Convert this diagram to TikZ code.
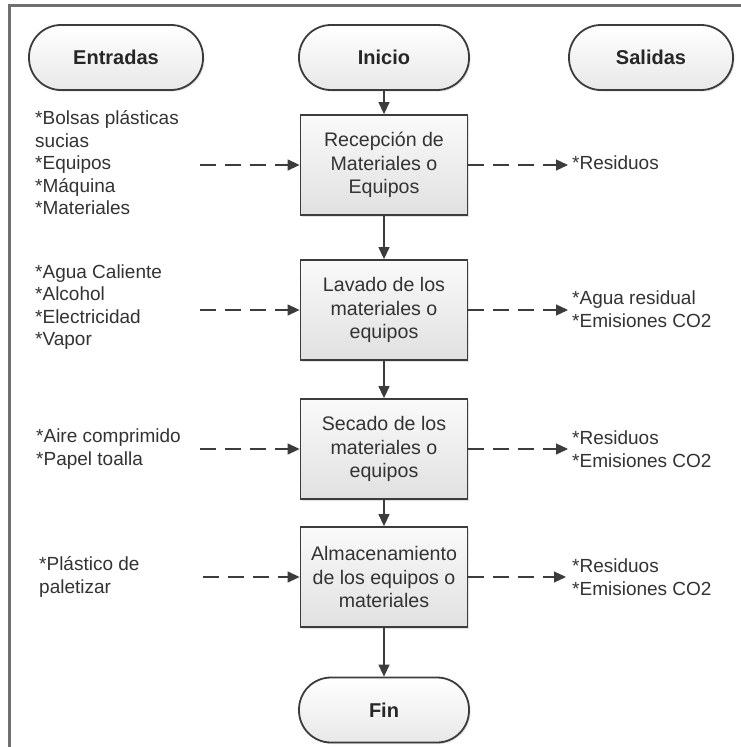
\documentclass[tikz,border=0pt]{standalone}
\usepackage{fontspec}
\setmainfont{Liberation Sans}
\usetikzlibrary{arrows.meta,shadows}
\definecolor{ln}{HTML}{3C3C3C}
\definecolor{tx}{HTML}{333333}
\definecolor{frame}{HTML}{707070}
\begin{document}
\begin{tikzpicture}[x=1pt,y=-1pt,
  font=\fontsize{19}{22.5}\selectfont,
  shad/.style={drop shadow={opacity=0.22,shadow xshift=1.5pt,shadow yshift=-1.5pt}},
  term/.style={draw=ln, line width=1.8pt, rounded corners=32pt, minimum width=170pt,
    minimum height=65pt, top color=white, bottom color=black!9, shad,
    font=\fontsize{20}{24}\selectfont\bfseries, text=black!85},
  procbox/.style={draw=ln, line width=1.8pt, minimum width=167pt, minimum height=100pt,
    top color=black!2, bottom color=black!12, shad, align=center, text=tx, inner sep=2pt,
    font=\fontsize{19.6}{23.4}\selectfont},
  flow/.style={draw=ln, line width=1.3pt, -{Triangle[length=12pt,width=11pt]}},
  dflow/.style={flow, dash pattern=on 16pt off 9pt},
  sidetext/.style={anchor=west, align=left, text=tx, inner sep=0pt}
]
\useasboundingbox (0,0) rectangle (740,747);
\fill[white] (0,0) rectangle (740,747);
\draw[frame, line width=3pt] (9,770) -- (9,5) -- (770,5);

% terminals
\node[term, minimum width=174pt] (entradas) at (116,57.5) {Entradas};
\node[term] (inicio) at (384,57.5) {Inicio};
\node[term, minimum width=164pt] (salidas) at (651,57.5) {Salidas};
\node[term] (fin) at (384,710) {Fin};

% process boxes
\node[procbox] (p1) at (384,165) {Recepción de\\Materiales o\\Equipos};
\node[procbox] (p2) at (384,310) {Lavado de los\\materiales o\\equipos};
\node[procbox] (p3) at (384,449) {Secado de los\\materiales o\\equipos};
\node[procbox] (p4) at (384,577) {Almacenamiento\\de los equipos o\\materiales};

% main flow
\draw[flow] (inicio) -- (p1);
\draw[flow] (p1) -- (p2);
\draw[flow] (p2) -- (p3);
\draw[flow] (p3) -- (p4);
\draw[flow] (p4) -- (fin);

% inputs
\node[sidetext] (in1) at (35,163) {*Bolsas plásticas\\sucias\\*Equipos\\*Máquina\\*Materiales};
\node[sidetext] (in2) at (35,307) {*Agua Caliente\\*Alcohol\\*Electricidad\\*Vapor};
\node[sidetext] (in3) at (36,449) {*Aire comprimido\\*Papel toalla};
\node[sidetext] (in4) at (39,577) {*Plástico de\\paletizar};

% outputs
\node[sidetext] (out1) at (572,163) {*Residuos};
\node[sidetext] (out2) at (572,309) {*Agua residual\\*Emisiones CO2};
\node[sidetext] (out3) at (572,449) {*Residuos\\*Emisiones CO2};
\node[sidetext] (out4) at (572,577) {*Residuos\\*Emisiones CO2};

% dashed connector ends
\coordinate (a1) at (200,165);
\coordinate (a2) at (200,310);
\coordinate (a3) at (200,449);
\coordinate (a4) at (203,577);
\coordinate (b1) at (568,165);
\coordinate (b2) at (568,310);
\coordinate (b3) at (568,449);
\coordinate (b4) at (566,577);

\draw[dflow] (a1) -- (p1.west);
\draw[dflow] (a2) -- (p2.west);
\draw[dflow] (a3) -- (p3.west);
\draw[dflow] (a4) -- (p4.west);
\draw[dflow] (p1.east) -- (b1);
\draw[dflow] (p2.east) -- (b2);
\draw[dflow] (p3.east) -- (b3);
\draw[dflow] (p4.east) -- (b4);
\end{tikzpicture}
\end{document}
